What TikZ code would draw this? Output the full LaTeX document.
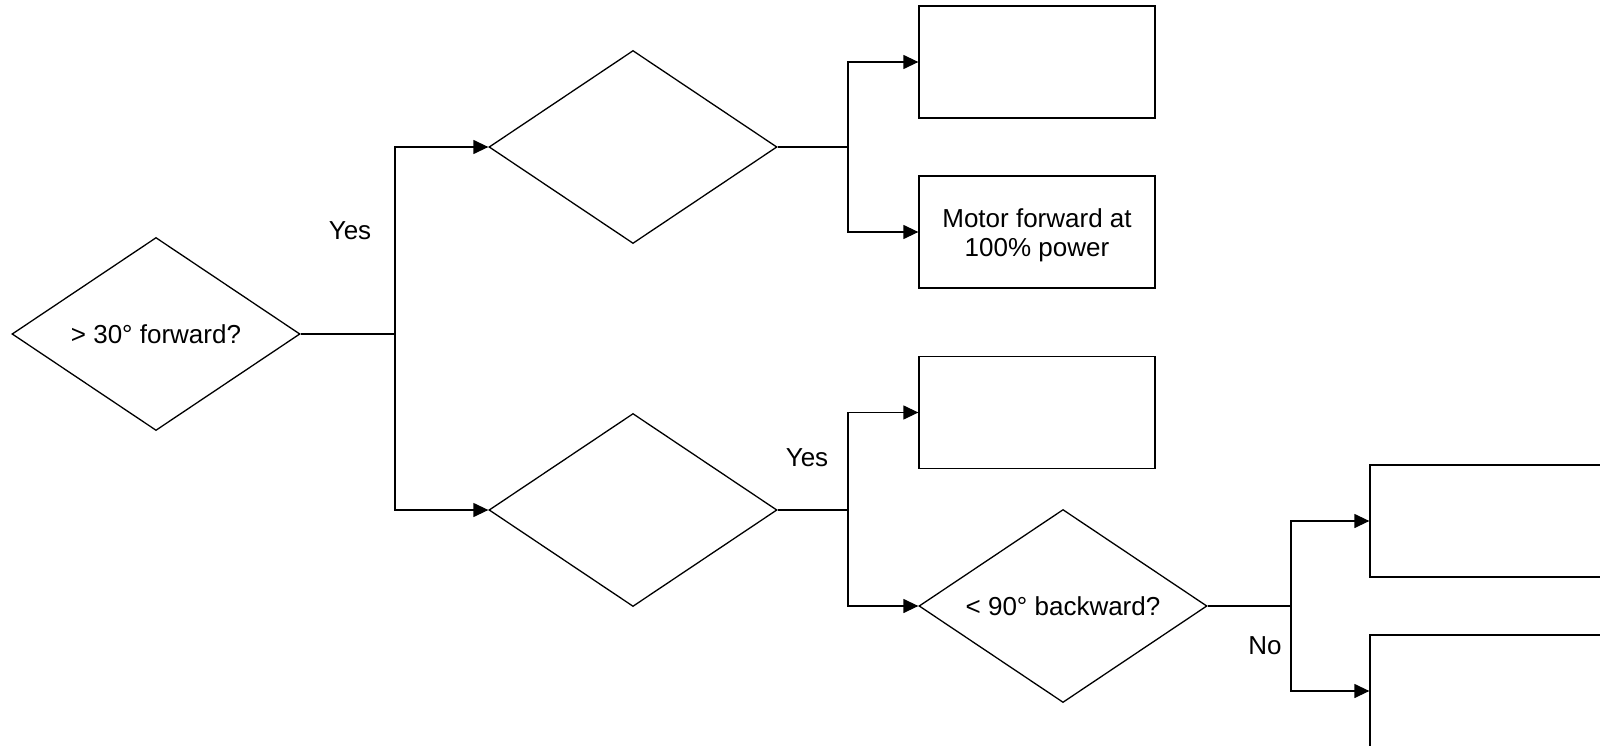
\documentclass[tikz,border=0pt]{standalone}
\usepackage{fontspec}
\setmainfont{Liberation Sans}
\usetikzlibrary{shapes.geometric,arrows.meta}
\tikzset{
  every node/.style={font=\fontsize{26}{29}\selectfont},
  dec/.style={draw, shape=diamond, aspect=1.46, inner sep=0pt, minimum width=288pt, minimum height=193pt, line width=1.3pt},
  act/.style={draw, rectangle, inner sep=0pt, minimum width=236pt, minimum height=112pt, align=center, line width=1.3pt},
  txt/.style={inner sep=0pt, align=center},
  lnk/.style={line width=1.3pt},
  arr/.style={line width=1.3pt, -{Triangle[length=15pt,width=14pt]}},
  lbl/.style={inner sep=0pt}
}
\begin{document}
\begin{tikzpicture}[x=1pt,y=-1pt]
\useasboundingbox (0,0) rectangle (1600,746);
\clip (0,0) rectangle (1600,746);
\fill[white] (0,0) rectangle (1600,746);

\node[dec] (d1) at (156,334) {> 30° forward?};
\node[dec] (d2) at (633,147) {};
\node[dec] (d3) at (633,510) {};
\node[dec] (d4) at (1063,606) {< 90° backward?};

\node[act] (b1) at (1037,62) {};
\node[act] (b2) at (1037,232) {};
\node[txt] (b2t) at ([yshift=-3pt]b2.center) {Motor forward at\\100\% power};
\node[act] (b3) at (1037,412.5) {};
\node[act] (b5) at (1488,521) {};
\node[act] (b6) at (1488,691) {};

\draw[lnk] (d1.east) -- (395,334) coordinate (j1);
\draw[arr] (j1) |- (d2.west);
\draw[arr] (j1) |- (d3.west);

\draw[lnk] (d2.east) -- (848,147) coordinate (j2);
\draw[arr] (j2) |- (b1.west);
\draw[arr] (j2) |- (b2.west);

\draw[lnk] (d3.east) -- (848,510) coordinate (j3);
\draw[arr] (j3) |- (b3.west);
\draw[arr] (j3) |- (d4.west);

\draw[lnk] (d4.east) -- (1291,606) coordinate (j4);
\draw[arr] (j4) |- (b5.west);
\draw[arr] (j4) |- (b6.west);

\node[lbl] (y1) at (350,231) {Yes};
\node[lbl] (y2) at (807,458) {Yes};
\node[lbl] (n1) at (1265,646) {No};
\end{tikzpicture}
\end{document}
